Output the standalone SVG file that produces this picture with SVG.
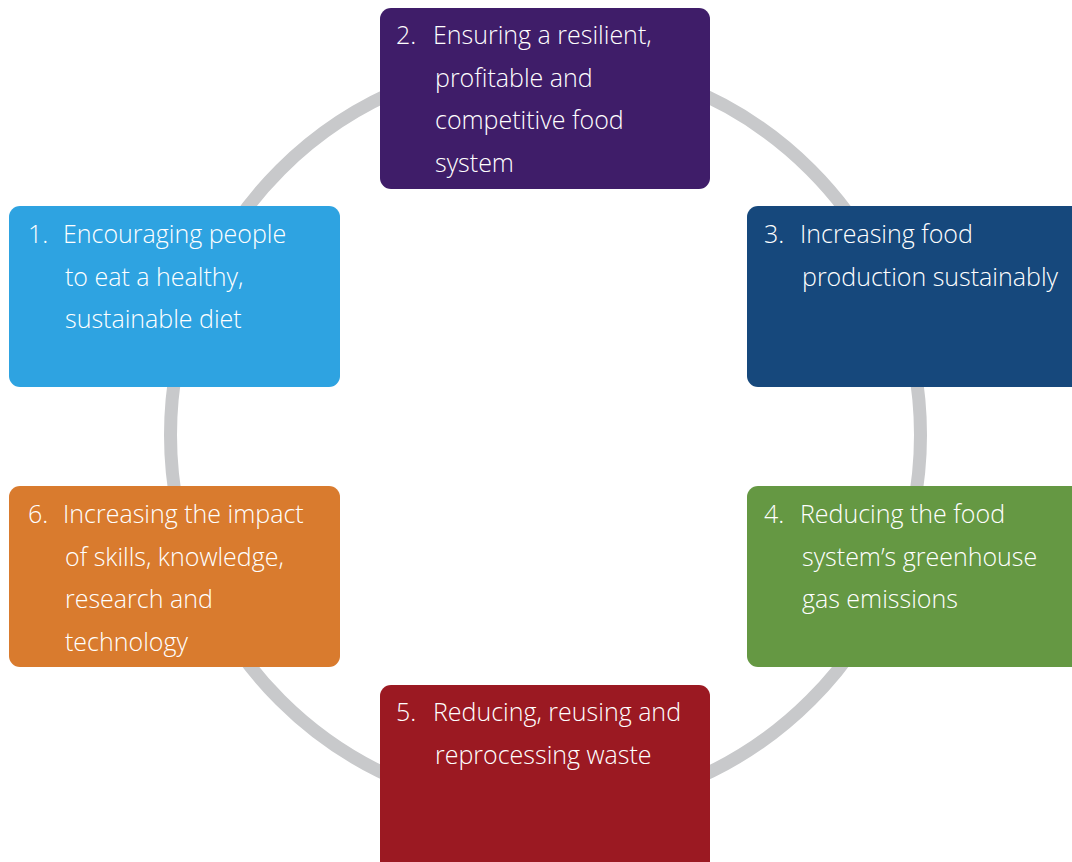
<svg xmlns="http://www.w3.org/2000/svg" width="1072" height="862" viewBox="0 0 1072 862">
<style>
.t{font-family:"Open Sans","Liberation Sans",sans-serif;font-size:25px;font-weight:300;fill:#ffffff;}
.ring{fill:none;stroke:#c8c9cb;stroke-width:13;}
</style>
<rect width="1072" height="862" fill="#ffffff"/>
<g id="connectors">
<circle class="ring" cx="545.5" cy="435" r="375"/>
</g>
<g id="node2">
<rect x="380" y="8" width="330" height="181" rx="11" fill="#3f1d69"/>
<text class="t" x="396" y="44">2.</text>
<text class="t" x="433" y="44">Ensuring a resilient,</text>
<text class="t" x="435" y="86.5">profitable and</text>
<text class="t" x="435" y="129">competitive food</text>
<text class="t" x="435" y="171.5">system</text>
</g>
<g id="node1">
<rect x="9" y="206" width="331" height="181" rx="11" fill="#2ea3e1"/>
<text class="t" x="28" y="243">1.</text>
<text class="t" x="63" y="243">Encouraging people</text>
<text class="t" x="65" y="285.5">to eat a healthy,</text>
<text class="t" x="65" y="328">sustainable diet</text>
</g>
<g id="node3">
<rect x="747" y="206" width="340" height="181" rx="11" fill="#16487c"/>
<text class="t" x="764" y="243">3.</text>
<text class="t" x="800" y="243">Increasing food</text>
<text class="t" x="802" y="285.5">production sustainably</text>
</g>
<g id="node6">
<rect x="9" y="486" width="331" height="181" rx="11" fill="#d97b2e"/>
<text class="t" x="28" y="523">6.</text>
<text class="t" x="63" y="523">Increasing the impact</text>
<text class="t" x="65" y="565.5">of skills, knowledge,</text>
<text class="t" x="65" y="608">research and</text>
<text class="t" x="65" y="650.5">technology</text>
</g>
<g id="node4">
<rect x="747" y="486" width="340" height="181" rx="11" fill="#659843"/>
<text class="t" x="764" y="523">4.</text>
<text class="t" x="800" y="523">Reducing the food</text>
<text class="t" x="802" y="565.5">system’s greenhouse</text>
<text class="t" x="802" y="608">gas emissions</text>
</g>
<g id="node5">
<rect x="380" y="685" width="330" height="190" rx="11" fill="#9b1922"/>
<text class="t" x="396" y="721">5.</text>
<text class="t" x="433" y="721">Reducing, reusing and</text>
<text class="t" x="435" y="763.5">reprocessing waste</text>
</g>
</svg>
